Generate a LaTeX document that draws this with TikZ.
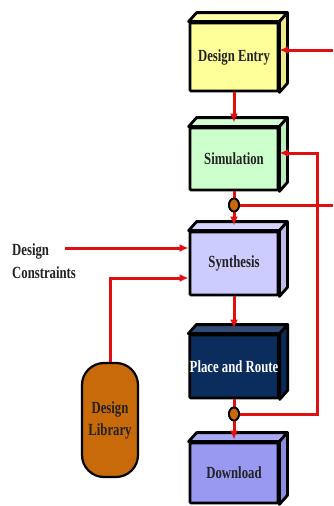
\documentclass[tikz,border=0pt]{standalone}
\usepackage{fontspec}
\setmainfont[FakeStretch=0.75]{Liberation Serif}
\usetikzlibrary{arrows.meta,shapes.geometric}
\definecolor{deC}{HTML}{FFFF99}
\definecolor{simC}{HTML}{CCFFCC}
\definecolor{synC}{HTML}{CCCCFF}
\definecolor{prC}{HTML}{0B2D5E}
\definecolor{dlC}{HTML}{9999F2}
\definecolor{libC}{HTML}{C8690A}
\definecolor{redL}{HTML}{E01010}
\definecolor{txtC}{HTML}{222222}
\tikzset{
  box/.style={draw=black, line width=2.8pt, rounded corners=1pt, inner sep=0pt,
    minimum width=88pt, text=txtC,
    font=\fontsize{17}{20}\selectfont\bfseries},
  face/.style={draw=black, line width=2.8pt, line join=round},
  redline/.style={draw=redL, line width=3pt},
  arr/.style={redline, -{Latex[length=9pt,width=8pt]}},
  dot/.style={ellipse, draw=black, line width=1.8pt, fill=libC, minimum width=10pt, minimum height=13pt, inner sep=0pt},
  lbl/.style={text=txtC, font=\fontsize{17}{23}\selectfont\bfseries, align=left, inner sep=0pt}
}
\begin{document}
\begin{tikzpicture}[x=1pt, y=-1pt]
\useasboundingbox (0,0) rectangle (333,506);

% boxes (front faces)
\node[box, fill=deC, minimum height=68pt] (de) at (234,57) {Design Entry};
\node[box, fill=simC, minimum height=62pt] (sim) at (234,159) {Simulation};
\node[box, fill=synC, minimum height=63pt] (syn) at (234,263.5) {Synthesis};
\node[box, fill=prC, minimum height=63pt, text=white] (pr) at (234,366.5) {Place and Route};
\node[box, fill=dlC, minimum height=60pt] (dl) at (234,473) {Download};

% 3D faces
\foreach \n/\c in {de/deC, sim/simC, syn/synC, pr/prC, dl/dlC} {
  \filldraw[face, fill=\c!85!white] (\n.north west) -- ++(8,-9) -- ([shift={(8,-9)}]\n.north east) -- (\n.north east) -- cycle;
  \filldraw[face, fill=\c!92!black] (\n.north east) -- ++(8,-9) -- ([shift={(8,-9)}]\n.south east) -- (\n.south east) -- cycle;
}

% design library
\node[draw=black, line width=2.2pt, fill=libC, rounded corners=22pt, minimum width=56pt, minimum height=114pt,
  text=txtC, font=\fontsize{17}{22}\selectfont\bfseries, align=center] (lib) at (110,420) {Design\\Library};

% design constraints label
\node[lbl, anchor=west] (dc) at (12,261) {Design\\Constraints};

% junction dots
\node[dot] (c1) at (234,205) {};
\node[dot] (c2) at (234,414) {};

% coordinates for free ends and bends
\coordinate (r0) at (333,50);
\coordinate (r1) at (333,205);
\coordinate (fb) at (317,414);
\coordinate (fbt) at (317,153);
\coordinate (dcs) at (65,248);
\coordinate (lk) at (110,278);

% connectors
\draw[arr] (r0) -- (de.east |- r0);
\draw[arr] (de.south) -- ([yshift=4pt]sim.north);
\draw[redline] (sim.south) -- (c1.north);
\draw[arr] (c1.south) -- ([yshift=5pt]syn.north);
\draw[redline] (c1.east) -- (r1);
\draw[arr] (syn.south) -- ([yshift=5pt]pr.north);
\draw[redline] (pr.south) -- (c2.north);
\draw[arr] (c2.south) -- ([yshift=2pt]dl.north);
\draw[arr] (c2.east) -- (fb) -- (fbt) -- (sim.east |- fbt);
\draw[arr] (dcs) -- (syn.west |- dcs);
\draw[arr] (lib.north) -- (lk) -- (syn.west |- lk);
\node[dot] at (c1) {};
\node[dot] at (c2) {};
\end{tikzpicture}
\end{document}
